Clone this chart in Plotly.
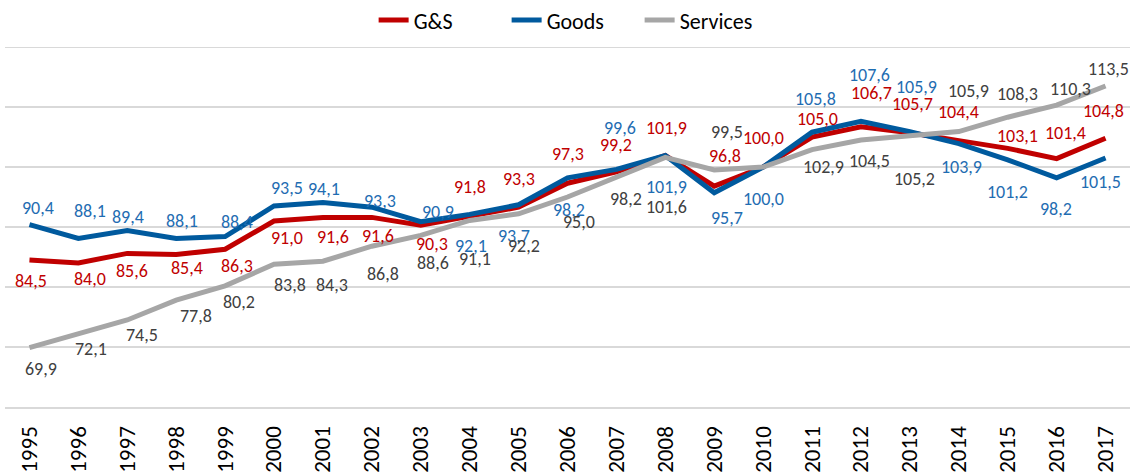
import plotly.graph_objects as go

years = list(range(1995, 2018))
gs = [84.5, 84.0, 85.6, 85.4, 86.3, 91.0, 91.6, 91.6, 90.3, 91.8, 93.3, 97.3, 99.2,
      101.9, 96.8, 100.0, 105.0, 106.7, 105.7, 104.4, 103.1, 101.4, 104.8]
goods = [90.4, 88.1, 89.4, 88.1, 88.4, 93.5, 94.1, 93.3, 90.9, 92.1, 93.7, 98.2, 99.6,
         101.9, 95.7, 100.0, 105.8, 107.6, 105.9, 103.9, 101.2, 98.2, 101.5]
services = [69.9, 72.1, 74.5, 77.8, 80.2, 83.8, 84.3, 86.8, 88.6, 91.1, 92.2, 95.0, 98.2,
            101.6, 99.5, 100.0, 102.9, 104.5, 105.2, 105.9, 108.3, 110.3, 113.5]
y_min, y_max, y_step = 60, 120, 10

# label offsets in pixels (dx, dy; dy positive = downward); None = no label
off_gs = [(2, 21), (12, 16), (5, 18), (11, 13), (12, 17), (13, 17), (10, 20), (6, 19),
          (11, 19), (0, -29), (0, -28), (0, -29), (0, -27), (1, -28), (11, -30), (0, -29),
          (5, -18), (11, -34), (3, -29), (0, -29), (10, -12), (9, -26), (-2, -27)]
off_goods = [(9, -17), (12, -27), (1, -14), (6, -17), (12, -15), (13, -18), (1, -13), (8, -6),
             (17, -10), (1, 32), (-5, 31), (1, 32), (4, -41), (1, 31), (13, 25), (0, 32),
             (3, -33), (9, -46), (7, -45), (3, 23), (0, 32), (-1, 31), (-5, 24)]
off_serv = [(12, 21), (13, 15), (15, 15), (20, 16), (14, 16), (16, 21), (9, 24), (11, 28),
            (12, 28), (5, 39), (5, 32), (11, 25), (10, 21), (1, 50), (13, -38), None,
            (11, 17), (9, 21), (5, 43), (10, -41), (10, -23), (14, -16), (3, -17)]

series = [
    ("G&S", gs, "#C00000", "#C00000", off_gs),
    ("Goods", goods, "#005A9E", "#1F6DB2", off_goods),
    ("Services", services, "#A6A6A6", "#404040", off_serv),
]

FONT = "Carlito, Lato, sans-serif"
GRID = "#D9D9D9"

fig = go.Figure()
annotations = []
for name, vals, lc, tc, offs in series:
    fig.add_trace(go.Scatter(x=years, y=vals, mode="lines", name=name,
                             line=dict(color=lc, width=5), hoverinfo="x+y"))
    for x, v, o in zip(years, vals, offs):
        if o is None:
            continue
        annotations.append(dict(x=x, y=v, xref="x", yref="y", showarrow=False,
                                text=f"{v:.1f}".replace(".", ","),
                                xshift=o[0], yshift=-o[1],
                                font=dict(family=FONT, size=18, color=tc)))

# top gridline (plotly omits the gridline at the upper range edge)
fig.add_shape(type="line", xref="paper", x0=0, x1=1, yref="y", y0=y_max, y1=y_max,
              line=dict(color=GRID, width=2), layer="below")

fig.update_layout(
    width=1136, height=472,
    margin=dict(l=5, r=6, t=47, b=65, autoexpand=False),
    paper_bgcolor="white", plot_bgcolor="white",
    font=dict(family=FONT, color="#000000"),
    showlegend=True,
    legend=dict(orientation="h", x=0.505, xanchor="center", yref="container",
                y=0.957, yanchor="middle", entrywidth=88, entrywidthmode="pixels",
                font=dict(family=FONT, size=22, color="#000000"),
                bgcolor="rgba(0,0,0,0)"),
    annotations=annotations,
    xaxis=dict(range=[years[0] - 0.5, years[-1] + 0.5], tickmode="array", tickvals=years,
               ticktext=[str(y) for y in years], tickangle=-90,
               tickfont=dict(family=FONT, size=23, color="#000000"),
               showgrid=False, zeroline=False, showline=True, linecolor=GRID,
               linewidth=2, ticks="", ticklabelstandoff=8, automargin=False,
               fixedrange=True),
    yaxis=dict(range=[y_min, y_max], dtick=y_step, tick0=y_min, showticklabels=False,
               showgrid=True, gridcolor=GRID, gridwidth=2, zeroline=False,
               showline=False, ticks="", automargin=False, fixedrange=True),
)

fig.write_html("out.html", config={"displayModeBar": False},
               post_script="document.body.style.margin='0';document.body.style.padding='0';"
                           "document.body.style.overflow='hidden';")
